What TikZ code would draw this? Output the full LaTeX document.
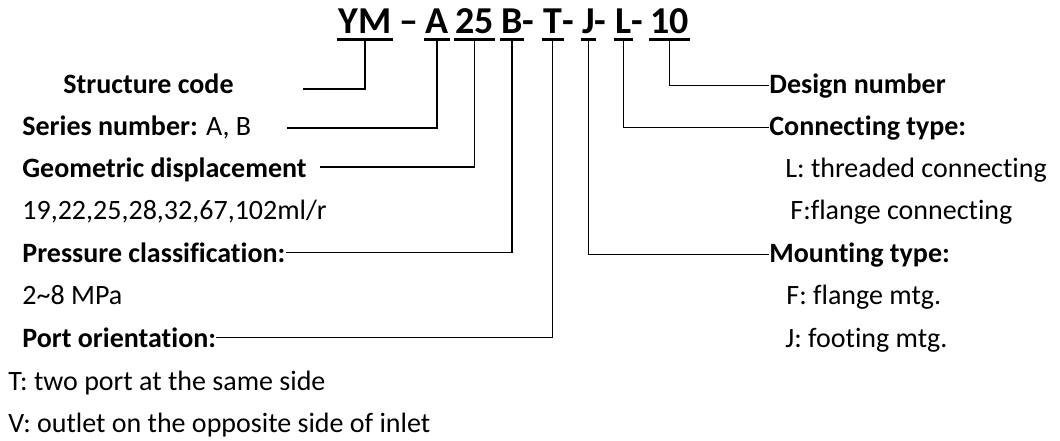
\documentclass[tikz,border=0pt]{standalone}
\usepackage{fontspec}
\setmainfont{Carlito}[Ligatures=NoCommon]
\usetikzlibrary{positioning}
\newcommand{\segfont}{\fontsize{19pt}{23pt}\selectfont\bfseries}
\newcommand{\lblfont}{\fontsize{14pt}{17pt}\selectfont}

\begin{document}
\begin{tikzpicture}[x=0.5pt, y=0.5pt,
  seg/.style={font=\segfont, inner xsep=0.5pt, inner ysep=3pt, text depth=0pt, anchor=base west},
  lbl/.style={font=\lblfont, inner sep=0pt, anchor=base west},
  hd/.style={lbl, font=\lblfont\bfseries},
  lead/.style={line width=0.65pt},
  uline/.style={line width=1.5pt}]
  \useasboundingbox (0,0) rectangle (1060,-440);
  % model code, one node per field (the hyphen sticks out, not underlined)
  \node[seg] (ym) at (337,-33) {YM};
  \node[seg, inner xsep=0pt] (dash) at (399,-33) {\textendash};
  \node[seg] (a) at (424,-33) {A};
  \node[seg] (tf) at (454,-33) {25};
  \node[seg] (b) at (500,-33) {B\rlap{-}};
  \node[seg] (t) at (542,-33) {T\rlap{-}};
  \node[seg] (j) at (581,-33) {J\rlap{-}};
  \node[seg] (l) at (614,-33) {L\rlap{-}};
  \node[seg] (ten) at (649,-33) {10};
  \foreach \s in {ym,a,tf,b,t,j,l,ten}
    \draw[uline] (\s.south west) -- (\s.south east);

  % left column
  \node[hd] (struct) at (63,-93) {Structure code};
  \node[lbl] (series) at (22,-135) {\textbf{Series number:} A, B};
  \node[hd] (geom) at (22,-177) {Geometric displacement};
  \node[lbl] (geomval) at (22,-219) {19,22,25,28,32,67,102ml/r};
  \node[hd] (press) at (22,-262) {Pressure classification:};
  \node[lbl] (pressval) at (22,-304) {2\textasciitilde8 MPa};
  \node[hd] (port) at (22,-347) {Port orientation:};
  \node[lbl] (portt) at (8,-390) {T: two port at the same side};
  \node[lbl] (portv) at (8,-432) {V: outlet on the opposite side of inlet};

  % right column
  \node[hd] (design) at (769,-93) {Design number};
  \node[hd] (conn) at (769,-135) {Connecting type:};
  \node[lbl] (connl) at (785,-177) {L: threaded connecting};
  \node[lbl] (connf) at (790,-219) {F:flange connecting};
  \node[hd] (mount) at (769,-262) {Mounting type:};
  \node[lbl] (mountf) at (786,-304) {F: flange mtg.};
  \node[lbl] (mountj) at (785,-347) {J: footing mtg.};

  % leader lines
  \coordinate (structend) at (303,-89);
  \coordinate (seriesend) at (287,-128);
  \coordinate (geomend) at (320,-167);
  \draw[lead] (ym.south) |- (structend);
  \draw[lead] (a.south) |- (seriesend);
  \draw[lead] (tf.south) |- (geomend);
  \draw[lead] (b.south) |- (press.east);
  \draw[lead] (t.south) |- (port.east);
  \draw[lead] (j.south) |- (mount.west);
  \draw[lead] (l.south) |- (conn.west);
  \draw[lead] (ten.south) |- (design.west);
\end{tikzpicture}
\end{document}
